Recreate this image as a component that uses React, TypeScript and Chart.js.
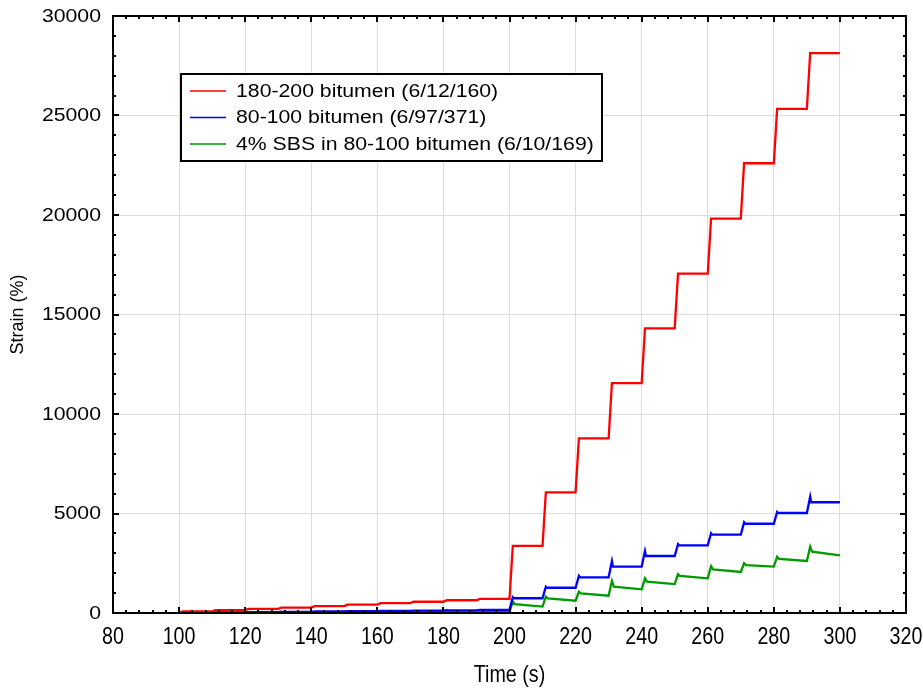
import React, { useEffect, useRef } from "react";
import { Chart, registerables } from "chart.js";

Chart.register(...registerables);

// ---- data ----
const cycleStarts = [100, 110, 120, 130, 140, 150, 160, 170, 180, 190, 200, 210, 220, 230, 240, 250, 260, 270, 280, 290];

// 180-200 bitumen: strain at end of each creep/recovery cycle
const redEnd = [75, 145, 210, 275, 345, 420, 495, 565, 640, 710, 3370, 6060, 8780, 11550, 14300, 17050, 19820, 22600, 25330, 28130];

// 80-100 bitumen
const bluePeak = [18, 33, 48, 63, 78, 93, 108, 123, 138, 153, 790, 1320, 1865, 2610, 3115, 3460, 4005, 4555, 5075, 5845];
const blueEnd = [15, 30, 45, 60, 75, 90, 105, 120, 135, 150, 740, 1270, 1795, 2330, 2865, 3400, 3935, 4485, 5025, 5565];

// 4% SBS in 80-100 bitumen
const greenPeak = [8, 14, 20, 26, 32, 38, 44, 50, 56, 62, 570, 820, 1070, 1610, 1740, 1945, 2360, 2500, 2830, 3335];
const greenAfter = [5, 11, 17, 23, 29, 35, 41, 47, 53, 59, 450, 740, 990, 1320, 1575, 1860, 2195, 2410, 2715, 3080];
const greenEnd = [4, 10, 16, 22, 28, 34, 40, 46, 52, 58, 320, 620, 870, 1190, 1455, 1740, 2060, 2330, 2615, 2900];

const xTickValues = [80, 100, 120, 140, 160, 180, 200, 220, 240, 260, 280, 300, 320];
const yTickValues = [0, 5000, 10000, 15000, 20000, 25000, 30000];
const xMinorStep = 4;
const yMinorStep = 1000;

const seriesLabels = ["180-200 bitumen (6/12/160)", "80-100 bitumen (6/97/371)", "4% SBS in 80-100 bitumen (6/10/169)"];
const seriesColors = ["#ff0000", "#0000ff", "#009a00"];
const xTitle = "Time (s)";
const yTitle = "Strain (%)";

// ---- build line points from the per-cycle values ----
function buildRed() {
  const pts = [{ x: cycleStarts[0], y: 0 }];
  cycleStarts.forEach((t, i) => {
    pts.push({ x: t + 1, y: redEnd[i] });
    pts.push({ x: t + 10, y: redEnd[i] });
  });
  return pts;
}
function buildBlue() {
  const pts = [{ x: cycleStarts[0], y: 0 }];
  cycleStarts.forEach((t, i) => {
    pts.push({ x: t + 1, y: bluePeak[i] });
    pts.push({ x: t + 1.3, y: blueEnd[i] });
    pts.push({ x: t + 10, y: blueEnd[i] });
  });
  return pts;
}
function buildGreen() {
  const pts = [{ x: cycleStarts[0], y: 0 }];
  cycleStarts.forEach((t, i) => {
    pts.push({ x: t + 1, y: greenPeak[i] });
    pts.push({ x: t + 1.6, y: greenAfter[i] });
    pts.push({ x: t + 10, y: greenEnd[i] });
  });
  return pts;
}

const FONT = '"Liberation Sans", Arial, Helvetica, sans-serif';

const decorPlugin = {
  id: "decor",
  afterDraw(chart: any) {
    const ctx = chart.ctx as CanvasRenderingContext2D;
    const xs = chart.scales.x;
    const ys = chart.scales.y;
    const a = chart.chartArea;
    ctx.save();
    ctx.strokeStyle = "#000";
    ctx.fillStyle = "#000";

    // frame
    ctx.lineWidth = 2;
    ctx.strokeRect(a.left, a.top, a.right - a.left, a.bottom - a.top);

    // ticks (inward, all four sides)
    ctx.lineWidth = 2;
    ctx.beginPath();
    for (let v = xs.min; v <= xs.max + 1e-9; v += xMinorStep) {
      const px = Math.round(xs.getPixelForValue(v));
      const major = xTickValues.includes(v);
      const len = major ? 6 : 3;
      ctx.moveTo(px, a.bottom);
      ctx.lineTo(px, a.bottom - len);
      ctx.moveTo(px, a.top);
      ctx.lineTo(px, a.top + len);
    }
    for (let v = ys.min; v <= ys.max + 1e-9; v += yMinorStep) {
      const py = Math.round(ys.getPixelForValue(v));
      const major = yTickValues.includes(v);
      const len = major ? 6 : 3;
      ctx.moveTo(a.left, py);
      ctx.lineTo(a.left + len, py);
      ctx.moveTo(a.right, py);
      ctx.lineTo(a.right - len, py);
    }
    ctx.stroke();

    // y tick labels
    ctx.font = "18px " + FONT;
    ctx.textAlign = "right";
    ctx.textBaseline = "middle";
    ys.ticks.forEach((t: any) => {
      const py = ys.getPixelForValue(t.value);
      ctx.save();
      ctx.translate(a.left - 12, py + 1);
      ctx.scale(1.18, 1);
      ctx.fillText(String(t.value), 0, 0);
      ctx.restore();
    });

    // x tick labels
    ctx.font = "24px " + FONT;
    ctx.textAlign = "center";
    ctx.textBaseline = "middle";
    xs.ticks.forEach((t: any) => {
      const px = xs.getPixelForValue(t.value);
      ctx.save();
      ctx.translate(px, a.bottom + 24);
      ctx.scale(0.82, 1);
      ctx.fillText(String(t.value), 0, 0);
      ctx.restore();
    });

    // x title
    ctx.save();
    ctx.translate((a.left + a.right) / 2, a.bottom + 62);
    ctx.scale(0.82, 1);
    ctx.fillText(xTitle, 0, 0);
    ctx.restore();

    // y title
    ctx.save();
    ctx.font = "18px " + FONT;
    ctx.translate(18, (a.top + a.bottom) / 2);
    ctx.rotate(-Math.PI / 2);
    ctx.textAlign = "center";
    ctx.textBaseline = "middle";
    ctx.fillText(yTitle, 0, 0);
    ctx.restore();

    // legend
    const lx = 181, ly = 74, lw = 421, lh = 87;
    ctx.fillStyle = "#fff";
    ctx.fillRect(lx, ly, lw, lh);
    ctx.lineWidth = 2;
    ctx.strokeStyle = "#000";
    ctx.strokeRect(lx, ly, lw, lh);
    const rowY = [91, 117.5, 144];
    chart.data.datasets.forEach((ds: any, i: number) => {
      const y = rowY[i];
      ctx.strokeStyle = ds.borderColor;
      ctx.lineWidth = 1.5;
      ctx.beginPath();
      ctx.moveTo(190, y);
      ctx.lineTo(226, y);
      ctx.stroke();
      ctx.fillStyle = "#000";
      ctx.font = "18px " + FONT;
      ctx.textAlign = "left";
      ctx.textBaseline = "middle";
      ctx.save();
      ctx.translate(236, y + 1);
      ctx.scale(1.18, 1);
      ctx.fillText(ds.label, 0, 0);
      ctx.restore();
    });
    ctx.restore();
  },
};

export default function App() {
  const canvasRef = useRef<HTMLCanvasElement | null>(null);

  useEffect(() => {
    const canvas = canvasRef.current;
    if (!canvas) return;
    const builders = [buildRed, buildBlue, buildGreen];
    const chart = new Chart(canvas, {
      type: "line",
      data: {
        datasets: builders.map((b, i) => ({
          label: seriesLabels[i],
          data: b(),
          borderColor: seriesColors[i],
          backgroundColor: seriesColors[i],
          borderWidth: 2.3,
          pointRadius: 0,
          tension: 0,
          fill: false,
        })),
      },
      options: {
        animation: false,
        responsive: false,
        devicePixelRatio: 1,
        layout: { padding: { top: 16, right: 17, left: 0, bottom: 0 } },
        plugins: { legend: { display: false }, tooltip: { enabled: false } },
        scales: {
          x: {
            type: "linear",
            min: 80,
            max: 320,
            afterBuildTicks: (s: any) => {
              s.ticks = xTickValues.map((v) => ({ value: v }));
            },
            afterFit: (s: any) => {
              s.height = 75;
            },
            ticks: { display: false },
            grid: { color: "#dcdcdc", lineWidth: 1, drawTicks: false },
            border: { display: false },
          },
          y: {
            type: "linear",
            min: 0,
            max: 30000,
            afterBuildTicks: (s: any) => {
              s.ticks = yTickValues.map((v) => ({ value: v }));
            },
            afterFit: (s: any) => {
              s.width = 113;
            },
            ticks: { display: false },
            grid: { color: "#dcdcdc", lineWidth: 1, drawTicks: false },
            border: { display: false },
          },
        },
      },
      plugins: [decorPlugin],
    });
    return () => chart.destroy();
  }, []);

  return (
    <div style={{ position: "absolute", left: 0, top: 0, width: 923, height: 688, background: "#fff" }}>
      <canvas ref={canvasRef} width={923} height={688} style={{ display: "block" }} />
    </div>
  );
}
